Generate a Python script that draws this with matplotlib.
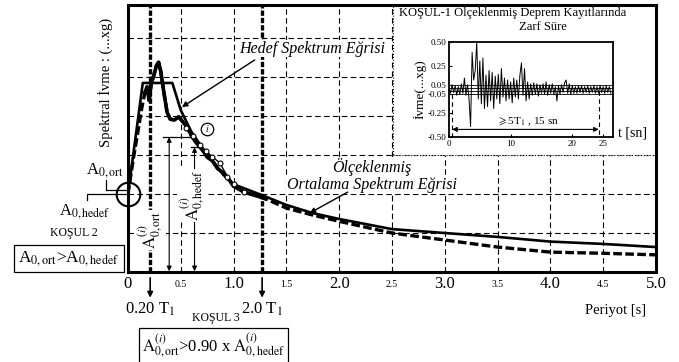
import matplotlib
matplotlib.use("Agg")
import matplotlib.pyplot as plt
import numpy as np

plt.rcParams['font.family'] = ['Liberation Serif', 'DejaVu Serif']
plt.rcParams['mathtext.fontset'] = 'stix'

# hedef (target) spectrum
hedef_T = [0, 0.14, 0.42, 0.5, 0.6, 0.7, 0.8, 0.9, 1.0, 1.27, 1.5, 1.75, 2.0, 2.5, 3.0, 3.5, 4.0, 4.5, 5.0]
hedef_Sa = [2.0, 4.85, 4.85, 4.15, 3.6, 3.2, 2.85, 2.5, 2.25, 1.97, 1.72, 1.51, 1.36, 1.1, 1.0, 0.9, 0.78, 0.72, 0.64]

# scaled mean spectrum
ort_T = [0, 0.05, 0.1, 0.13, 0.16, 0.18, 0.2, 0.22, 0.24, 0.27, 0.29, 0.31, 0.34, 0.37, 0.40,
         0.44, 0.48, 0.52, 0.56, 0.6, 0.65, 0.7, 0.75, 0.8, 0.85, 0.9, 0.95, 1.0, 1.1, 1.2, 1.3,
         1.5, 1.75, 2.0, 2.5, 3.0, 3.5, 4.0, 4.5, 5.0]
ort_Sa = [2.0, 2.9, 3.7, 4.2, 4.6, 4.75, 4.4, 4.85, 5.0, 5.3, 5.38, 5.15, 4.6, 4.1, 3.92,
          3.9, 3.98, 3.85, 3.72, 3.5, 3.3, 3.15, 2.95, 2.85, 2.65, 2.55, 2.4, 2.2, 2.05, 1.97, 1.88,
          1.64, 1.46, 1.3, 1.0, 0.82, 0.64, 0.51, 0.48, 0.44]

# i-th record (with open circles)
rec_T = [0.55, 0.62, 0.68, 0.74, 0.8, 0.87, 0.94, 1.0, 1.1]
rec_Sa = [3.7, 3.5, 3.25, 3.1, 2.95, 2.8, 2.45, 2.25, 2.05]

# inset acceleration record, dt = 0.25 s
dt = 0.25
acc = [0.02, -0.04, 0.05, -0.03, 0.04, -0.06, 0.03, -0.05, 0.06, -0.04, 0.12, -0.06, 0.05,
       -0.1, -0.39, 0.39, 0.1, 0.2, 0.5, -0.1, 0.3, -0.15, 0.33, -0.2, 0.15, -0.18, 0.2, -0.12,
       0.18, -0.2, 0.14, -0.1, 0.16, -0.15, 0.22, -0.08, 0.12, -0.12, 0.1, -0.1, 0.08, -0.14,
       0.12, -0.08, 0.1, -0.1, 0.15, 0.28, -0.06, 0.22, -0.12, 0.08, -0.1, 0.06, -0.06, 0.07,
       -0.05, 0.06, -0.07, 0.05, -0.04, 0.06, -0.05, 0.08, -0.06, 0.05, -0.04, 0.06, -0.05, 0.03,
       -0.12, 0.04, -0.05, 0.05, -0.03, 0.07, 0.1, -0.04, 0.06, -0.05, 0.04, -0.04, 0.03, -0.04,
       0.04, -0.03, 0.04, -0.04, 0.03, -0.03, 0.04, -0.04, 0.03, -0.03, 0.04, -0.04, 0.03, -0.04,
       0.04, -0.03, 0.03, -0.04, 0.04, -0.03, 0.03, -0.04]
t = np.arange(len(acc)) * dt

major_x = [0, 1, 2, 3, 4, 5]
major_lbl = ['0', '1.0', '2.0', '3.0', '4.0', '5.0']
minor_x = [0.5, 1.5, 2.5, 3.5, 4.5]
minor_lbl = ['0.5', '1.5', '2.5', '3.5', '4.5']

T02, T20 = 0.21, 1.27
A_ort_x, A_hedef_x = 0.39, 0.63
A_ort_y, A_hedef_y = 3.46, 3.2

white = dict(boxstyle='square,pad=0.05', fc='white', ec='none')

fig = plt.figure(figsize=(6.79, 3.62), dpi=100)
ax = fig.add_axes([128/679, 1-272/362, 528/679, 267/362])
ax.set_xlim(0, 5)
ax.set_ylim(0, 6.85)

ax.set_xticks(major_x, major_lbl)
ax.set_xticks(minor_x, minor_lbl, minor=True)
ax.set_yticks([1, 2, 3, 4, 5, 6], [])
ax.tick_params(which='both', length=0)
ax.tick_params(which='major', labelsize=12, pad=3)
ax.tick_params(which='minor', labelsize=7, pad=6)
ax.grid(which='both', color='k', lw=0.8, ls=(0, (5, 3)))
for s in ax.spines.values():
    s.set_linewidth(2.2)

ax.set_ylabel("Spektral İvme : (...xg)", fontsize=10.5)
ax.yaxis.set_label_coords(-0.028, 0.71)

# thick dashed period limits
for xv in (T02, T20):
    ax.axvline(xv, color='k', lw=2.4, ls=(0, (1.6, 0.6)), zorder=2)

# curves
ax.plot(ort_T, ort_Sa, color='k', lw=2.4, ls=(0, (2.6, 1)), zorder=3)
ax.plot(ort_T[4:31], ort_Sa[4:31], color='k', lw=2.6, zorder=3)
ax.plot(hedef_T, hedef_Sa, color='k', lw=1.9, zorder=3)
ax.plot(rec_T, rec_Sa, color='k', lw=1.0, marker='o', ms=3.5, mfc='white', mec='k', mew=0.8, zorder=4)

# circle at origin and the i marker
ax.plot([0], [2.0], 'o', ms=17, mfc='none', mec='k', mew=1.5, clip_on=False, zorder=5)
ax.plot([0.75], [3.67], 'o', ms=9, mfc='white', mec='k', mew=0.9, zorder=5)
ax.text(0.75, 3.67, "$i$", fontsize=7, ha='center', va='center', zorder=6)

# A0 connectors on the left
ax.plot([-0.21, -0.21, 0], [2.35, 2.1, 2.1], color='k', lw=0.9, clip_on=False)
ax.plot([-0.39, -0.39, 0], [1.85, 2.0, 2.0], color='k', lw=0.9, clip_on=False)
ax.text(-0.22, 2.6, r"A$_{0,\mathrm{ort}}$", fontsize=12, ha='center', va='center')
ax.text(-0.41, 1.54, r"A$_{0,\mathrm{hedef}}$", fontsize=12, ha='center', va='center')
ax.text(-0.51, 1.0, "KOŞUL 2", fontsize=8.5, ha='center', va='center')
ax.text(-0.56, 0.35, r"A$_{0,\mathrm{ort}}$>A$_{0,\mathrm{hedef}}$", fontsize=12.5, ha='center', va='center',
        bbox=dict(boxstyle='square,pad=0.25', fc='white', ec='k', lw=0.9))

# vertical A(i) dimension arrows
ax.plot([0.33, 0.59], [A_ort_y, A_ort_y], color='k', lw=0.9)
ax.plot([0.6, 0.66], [A_hedef_y, A_hedef_y], color='k', lw=0.9)
ax.annotate('', xy=(A_ort_x, A_ort_y), xytext=(A_ort_x, 0.02),
            arrowprops=dict(arrowstyle='<|-|>', color='k', lw=0.8, mutation_scale=7, shrinkA=0, shrinkB=0))
ax.annotate('', xy=(A_hedef_x, A_hedef_y), xytext=(A_hedef_x, 0.02),
            arrowprops=dict(arrowstyle='<|-|>', color='k', lw=0.8, mutation_scale=7, shrinkA=0, shrinkB=0))
ax.text(0.215, 1.08, r"$\mathrm{A}^{(i)}_{0,\mathrm{ort}}$", fontsize=12, rotation=90, ha='center', va='center',
        bbox=white, zorder=4)
ax.text(0.61, 1.97, r"$\mathrm{A}^{(i)}_{0,\mathrm{hedef}}$", fontsize=12, rotation=90, ha='center', va='center',
        bbox=white, zorder=4)

# curve labels
ax.text(1.74, 5.73, "Hedef Spektrum Eğrisi", fontsize=11.5, style='italic', ha='center', va='center', bbox=white)
ax.annotate('', xy=(0.51, 4.23), xytext=(1.2, 5.44),
            arrowprops=dict(arrowstyle='-|>', color='k', lw=1.0, mutation_scale=8, shrinkA=0, shrinkB=0))
ax.text(2.31, 2.7, "Ölçeklenmiş", fontsize=11.5, style='italic', ha='center', va='center', bbox=white)
ax.text(2.31, 2.23, "Ortalama Spektrum Eğrisi", fontsize=11.5, style='italic', ha='center', va='center', bbox=white)
ax.annotate('', xy=(1.72, 1.51), xytext=(2.08, 2.05),
            arrowprops=dict(arrowstyle='-|>', color='k', lw=1.0, mutation_scale=8, shrinkA=0, shrinkB=0))

# below axis
for xv, lbl in ((T02, "0.20 T$_1$"), (T20, "2.0 T$_1$")):
    ax.annotate('', xy=(xv, -0.66), xytext=(xv, -0.15), annotation_clip=False,
                arrowprops=dict(arrowstyle='-|>', color='k', lw=1.2, mutation_scale=8, shrinkA=0, shrinkB=0))
    ax.text(xv, -0.95, lbl, fontsize=12, ha='center', va='center')
ax.text(0.83, -1.18, "KOŞUL 3", fontsize=8.5, ha='center', va='center')
ax.text(0.81, -1.9, r"$\mathrm{A}^{(i)}_{0,\mathrm{ort}}$>0.90 x $\mathrm{A}^{(i)}_{0,\mathrm{hedef}}$",
        fontsize=12, ha='center', va='center',
        bbox=dict(boxstyle='square,pad=0.2', fc='white', ec='k', lw=0.9))
ax.text(4.62, -0.98, "Periyot [s]", fontsize=10.5, ha='center', va='center')

# white inset box
box = plt.Rectangle((2.51, 3.0), 2.49, 3.85, fc='white', ec='k', lw=0.8, ls=':', zorder=2.3)
ax.add_patch(box)
fig.text(513/679, 1-12/362, "KOŞUL-1 Ölçeklenmiş Deprem Kayıtlarında", fontsize=9, ha='center', va='center')
fig.text(543/679, 1-27/362, "Zarf Süre", fontsize=9, ha='center', va='center')
fig.text(632/679, 1-133/362, "t [sn]", fontsize=10, ha='center', va='center')

ins = fig.add_axes([449/679, 1-137/362, 164/679, 95/362])
ins.plot(t, acc, color='k', lw=0.7)
for yv in (0.05, 0.02, -0.02, -0.05):
    ins.axhline(yv, color='k', lw=0.6)
ins.set_xlim(0, 26.6)
ins.set_ylim(-0.5, 0.5)
ins.set_xticks([0, 10, 20, 25])
ins.set_yticks([0.5, 0.25, 0.05, -0.05, -0.25, -0.5], ['0.50', '0.25', '0.05', '-0.05', '-0.25', '-0.50'])
ins.tick_params(labelsize=6.5, length=2, direction='in', pad=2)
for s in ins.spines.values():
    s.set_linewidth(1.3)
ins.set_ylabel("İvme(...xg)", fontsize=9.5, labelpad=1)
ins.plot([0.5, 0.5], [-0.05, -0.5], color='k', lw=0.8, ls=(0, (4, 3)))
ins.plot([24.3, 24.3], [-0.02, -0.5], color='k', lw=0.8, ls=(0, (4, 3)))
ins.annotate('', xy=(0.5, -0.42), xytext=(24.3, -0.42),
             arrowprops=dict(arrowstyle='<|-|>', color='k', lw=0.8, mutation_scale=7, shrinkA=0, shrinkB=0))
ins.text(12.8, -0.34, r"$\geqslant$5T$_1$ , 15 sn", fontsize=8, ha='center', va='center')

fig.savefig("out.png", dpi=100)
